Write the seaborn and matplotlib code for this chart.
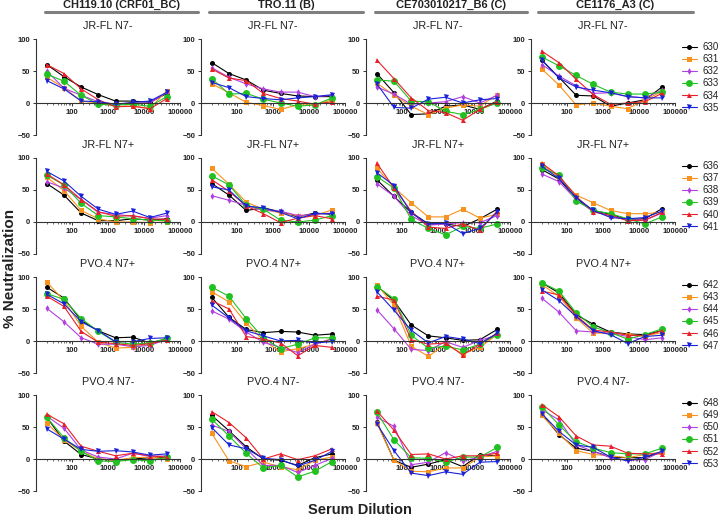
import matplotlib
matplotlib.use("Agg")
import matplotlib.pyplot as plt
import matplotlib.ticker as mticker
import numpy as np
import seaborn as sns

sns.set_style("ticks")
plt.rcParams["font.family"] = ["Liberation Sans", "DejaVu Sans"]

# serum dilutions (3-fold from 1:20)
dilutions = [20, 60, 180, 540, 1620, 4860, 14580, 43740]

viruses = ["CH119.10 (CRF01_BC)", "TRO.11 (B)", "CE703010217_B6 (C)", "CE1176_A3 (C)"]
probes = ["JR-FL N7-", "JR-FL N7+", "PVO.4 N7+", "PVO.4 N7-"]
animals = [["630", "631", "632", "633", "634", "635"],
           ["636", "637", "638", "639", "640", "641"],
           ["642", "643", "644", "645", "646", "647"],
           ["648", "649", "650", "651", "652", "653"]]

# % neutralization, rows = animals in legend order
jrfl_minus_ch119 = [[60, 41, 25, 13, 3, 3, 1, 15],
                    [40, 24, 3, 0, -5, -5, -8, 19],
                    [50, 23, 12, 2, -2, 0, 0, 17],
                    [45, 34, 12, -2, -3, -2, -5, 10],
                    [60, 46, 22, 5, -6, -5, -9, 7],
                    [35, 22, 3, 2, -2, 1, 3, 17]]
jrfl_minus_tro = [[63, 46, 36, 20, 15, 11, 10, 10],
                  [30, 16, 1, -4, -10, -3, -3, 5],
                  [55, 40, 30, 22, 17, 17, 10, 12],
                  [38, 14, 15, 6, 0, -5, -3, 8],
                  [53, 39, 35, 15, 7, 3, -2, 2],
                  [32, 24, 10, 7, 5, 8, 10, 13]]
jrfl_minus_ce703 = [[46, 16, -18, -17, -5, -3, -10, 3],
                    [31, 12, -5, -18, -8, -3, -5, 13],
                    [25, 14, -2, 0, 2, 10, 0, 12],
                    [36, 34, 3, 2, -13, -18, -10, 0],
                    [67, 38, 8, -12, -15, -27, -10, 2],
                    [30, -7, -8, 6, 9, 0, 5, 7]]
jrfl_minus_ce1176 = [[67, 40, 12, 11, -5, 0, 5, 25],
                     [53, 28, -3, 0, -5, -9, 5, 18],
                     [60, 42, 27, 15, 16, 10, 8, 20],
                     [72, 58, 43, 29, 17, 14, 14, 17],
                     [81, 63, 37, 13, -2, 0, 2, 15],
                     [67, 39, 25, 20, 16, 10, 8, 8]]

jrfl_plus_ch119 = [[60, 42, 14, 2, 2, 5, 3, 5],
                   [70, 49, 18, 5, 0, 0, -1, 0],
                   [63, 53, 35, 15, 12, 9, 6, 10],
                   [73, 58, 29, 10, 8, 5, 3, 2],
                   [75, 58, 35, 16, 9, 10, 5, 4],
                   [79, 64, 40, 20, 12, 17, 7, 14]]
jrfl_plus_tro = [[60, 42, 18, 22, 16, 8, 14, 12],
                 [84, 59, 31, 20, 14, 10, 10, 19],
                 [41, 34, 26, 18, 17, 10, 12, 14],
                 [72, 58, 26, 20, 3, 0, 3, 10],
                 [66, 48, 25, 13, -1, 6, 10, 5],
                 [55, 50, 25, 22, 15, 5, 13, 13]]
jrfl_plus_ce703 = [[66, 40, 15, -3, -3, -7, 5, 20],
                   [84, 54, 30, 8, 8, 20, 6, 12],
                   [60, 40, 10, -5, -3, -1, -1, 10],
                   [71, 53, 4, -10, -20, -7, -10, -3],
                   [92, 53, 17, -8, -10, -3, -13, 17],
                   [77, 57, 14, -3, -2, -18, -10, 15]]
jrfl_plus_ce1176 = [[82, 67, 36, 18, 12, 4, 5, 21],
                    [90, 70, 42, 30, 18, 13, 13, 15],
                    [75, 63, 35, 16, 10, 3, 3, 14],
                    [84, 74, 33, 18, 13, 5, -3, 8],
                    [92, 72, 40, 16, 10, 2, 3, 15],
                    [87, 68, 38, 18, 7, 5, 7, 17]]

pvo_plus_ch119 = [[84, 67, 32, 16, 5, 6, -3, 3],
                  [92, 63, 23, -2, -11, -10, -5, 5],
                  [51, 30, 5, -5, -5, -9, -7, 3],
                  [74, 65, 35, 15, -2, -5, -3, 4],
                  [70, 54, 15, -2, -4, -7, -4, 1],
                  [73, 58, 30, 16, -1, -1, 4, 5]]
pvo_plus_tro = [[68, 37, 18, 13, 15, 14, 9, 11],
                [77, 61, 28, 1, -17, -12, -5, 4],
                [47, 34, 14, -2, -10, -18, -5, 3],
                [84, 70, 35, 5, -12, -5, 5, 5],
                [63, 50, 7, 3, -3, -23, -7, -10],
                [56, 36, 16, 8, 0, 1, -3, -1]]
pvo_plus_ce703 = [[86, 63, 25, 8, 5, 1, 2, 18],
                  [88, 56, -8, -24, -5, -20, -10, 10],
                  [49, 19, -13, -15, -1, -10, 1, 9],
                  [85, 66, 9, -11, -8, -14, -5, 10],
                  [70, 64, 2, -5, -3, -22, -5, 12],
                  [77, 48, 17, -3, 7, 3, -4, 12]]
pvo_plus_ce1176 = [[91, 75, 41, 26, 14, 11, 10, 16],
                   [88, 70, 36, 12, 13, 10, 8, 13],
                   [67, 45, 16, 14, 12, 7, 2, 5],
                   [91, 78, 44, 22, 13, 3, 10, 19],
                   [78, 72, 40, 17, 14, 9, 8, 16],
                   [80, 63, 38, 16, 10, -4, 7, 9]]

pvo_minus_ch119 = [[65, 28, 7, 0, -2, 0, 2, 2],
                   [56, 30, 12, 0, -2, 2, 3, 0],
                   [67, 48, 14, 3, 0, 9, 4, 5],
                   [65, 33, 12, -3, -4, -1, -3, 3],
                   [70, 55, 20, 12, 5, 9, 5, 3],
                   [47, 31, 15, 12, 13, 11, 6, 8]]
pvo_minus_tro = [[68, 44, 19, 0, -2, -10, 2, 8],
                 [40, -3, -12, -5, -12, -17, -2, 3],
                 [53, 43, 16, -10, -10, -21, -10, 1],
                 [62, 36, 9, -14, -10, -28, -19, -4],
                 [74, 57, 33, 0, 8, -1, 5, 16],
                 [49, 22, 16, 1, -1, -11, -2, 12]]
pvo_minus_ce703 = [[58, -2, -13, -8, -1, -12, 7, 5],
                   [56, -2, -19, -20, -14, -14, 3, 5],
                   [65, 51, -9, -5, 10, -3, 3, 12],
                   [73, 30, 2, 1, -5, 3, 3, 18],
                   [75, 45, 7, 8, 0, 5, 5, 9],
                   [55, 13, -22, -26, -20, -24, -5, -4]]
pvo_minus_ce1176 = [[70, 38, 17, 12, 3, 2, 2, 11],
                    [68, 40, 13, 7, 5, 2, 7, 11],
                    [77, 61, 22, 12, 2, -2, -1, 12],
                    [82, 53, 27, 17, 10, 8, 8, 17],
                    [85, 66, 36, 22, 20, 9, 8, 8],
                    [71, 43, 22, 18, 3, -3, 3, 12]]

grid = [[jrfl_minus_ch119, jrfl_minus_tro, jrfl_minus_ce703, jrfl_minus_ce1176],
        [jrfl_plus_ch119, jrfl_plus_tro, jrfl_plus_ce703, jrfl_plus_ce1176],
        [pvo_plus_ch119, pvo_plus_tro, pvo_plus_ce703, pvo_plus_ce1176],
        [pvo_minus_ch119, pvo_minus_tro, pvo_minus_ce703, pvo_minus_ce1176]]

colors = ["#000000", "#F7931E", "#B23FE0", "#22C122", "#E8202A", "#1A22D8"]
markers = ["o", "s", "d", "o", "^", "v"]
msizes = [3.6, 3.6, 3.4, 5.0, 3.6, 3.6]

W, H = 720, 518
fig = plt.figure(figsize=(7.2, 5.18), dpi=100)

col_left = [36, 201, 366, 531]
row_top = [39, 158, 277, 395]
ax_w, ax_h = 144, 96
text_col = "#222222"

for r in range(4):
    for c in range(4):
        ax = fig.add_axes([col_left[c] / W, 1 - (row_top[r] + ax_h) / H, ax_w / W, ax_h / H])
        for i, name in enumerate(animals[r]):
            sns.lineplot(x=dilutions, y=grid[r][c][i], ax=ax, color=colors[i],
                         marker=markers[i], markersize=msizes[i], markeredgewidth=0,
                         linewidth=0.8, label=name, legend=(c == 3))
        ax.set_xscale("log")
        ax.set_xlim(10, 100000)
        ax.set_ylim(-50, 100)
        ax.spines["top"].set_visible(False)
        ax.spines["right"].set_visible(False)
        ax.spines["bottom"].set_position(("data", 0))
        for s in ["left", "bottom"]:
            ax.spines[s].set_linewidth(0.8)
            ax.spines[s].set_color("#333333")
        ax.set_yticks([-50, 0, 50, 100])
        ax.xaxis.set_major_locator(mticker.FixedLocator([100, 1000, 10000, 100000]))
        ax.xaxis.set_major_formatter(mticker.FuncFormatter(lambda v, p: f"{int(round(v))}"))
        ax.xaxis.set_minor_locator(mticker.LogLocator(base=10, subs=np.arange(2, 10)))
        ax.xaxis.set_minor_formatter(mticker.NullFormatter())
        ax.tick_params(axis="both", which="major", labelsize=5.5, length=2.5, width=0.7,
                       colors="#333333", labelcolor=text_col, pad=1.5)
        ax.tick_params(axis="x", which="minor", length=1.6, width=0.5, colors="#333333")
        for lab in ax.get_xticklabels() + ax.get_yticklabels():
            lab.set_fontweight("bold")
        ax.set_xlabel("")
        ax.set_ylabel("")
        ax.set_title(probes[r], fontsize=7.8, color=text_col, pad=7)
        if c == 3:
            handles, labels = ax.get_legend_handles_labels()
            ax.legend(handles, labels, loc="upper left",
                      bbox_to_anchor=(682 / W, 1 - (row_top[r] + 3) / H),
                      bbox_transform=fig.transFigure, frameon=False, fontsize=7,
                      handlelength=1.5, handletextpad=0.6, labelspacing=0.22,
                      borderaxespad=0, borderpad=0, labelcolor=text_col)

# column headers with grey underline bars
bars = [(45, 198), (209, 363), (375, 527), (538, 693)]
for (x0, x1), name in zip(bars, viruses):
    fig.text((x0 + x1) / 2 / W, 1 - 5 / H, name, ha="center", va="center",
             fontsize=8, fontweight="bold", color=text_col)
    fig.add_artist(plt.Line2D([x0 / W, x1 / W], [1 - 11.5 / H, 1 - 11.5 / H],
                              color="#7f7f7f", linewidth=2.2))

fig.text(10 / W, 1 - 268 / H, "% Neutralization", rotation=90, ha="center", va="center",
         fontsize=11, fontweight="bold", color=text_col)
fig.text(360 / W, 1 - 510 / H, "Serum Dilution", ha="center", va="center",
         fontsize=10.5, fontweight="bold", color=text_col)

plt.savefig("out.png", dpi=100)
plt.close()
